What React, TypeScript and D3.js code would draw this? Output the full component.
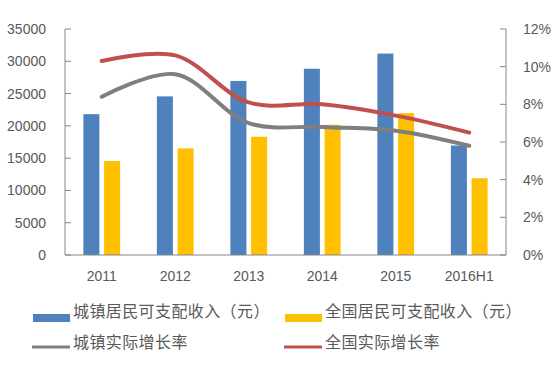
import React from "react";
import * as d3 from "d3";

const categories = ["2011", "2012", "2013", "2014", "2015", "2016H1"];
const urbanIncome = [21810, 24565, 26955, 28844, 31195, 16957];
const nationalIncome = [14551, 16510, 18311, 20167, 21966, 11886];
const urbanGrowth = [8.4, 9.6, 7.0, 6.8, 6.6, 5.8];
const nationalGrowth = [10.3, 10.6, 8.1, 8.0, 7.4, 6.5];
const leftTicks = [0, 5000, 10000, 15000, 20000, 25000, 30000, 35000];
const rightTicks = [0, 2, 4, 6, 8, 10, 12];
const legendLabels = ["城镇居民可支配收入（元）", "全国居民可支配收入（元）", "城镇实际增长率", "全国实际增长率"];

const W = 557, H = 375;
const L = 65, R = 506, T = 29, B = 255;
const BLUE = "#4F81BD", YELLOW = "#FFC000", GRAY = "#7F7F7F", RED = "#C0504D";
const AXIS = "#868686", TEXT = "#595959";
const NUM_FONT = "'Liberation Sans', Arial, sans-serif";
const CJK_FONT = "'Noto Sans CJK SC', sans-serif";

export default function App() {
  const x = d3.scaleBand<string>().domain(categories).range([L, R]).padding(0);
  const bw = x.bandwidth();
  const sub = d3.scaleBand<number>().domain([0, 1]).range([-bw * 0.25, bw * 0.25]).paddingInner(0.227).paddingOuter(0);
  const yL = d3.scaleLinear().domain([0, 35000]).range([B, T]);
  const yR = d3.scaleLinear().domain([0, 12]).range([B, T]);
  const cx = (c: string) => (x(c) as number) + bw / 2;

  const line = (vals: number[]) =>
    d3.line<number>()
      .x((_, i) => cx(categories[i]))
      .y((v) => yR(v))
      .curve(d3.curveCatmullRom.alpha(0.5))(vals) as string;

  const legendItems = [
    { label: legendLabels[0], color: BLUE, type: "bar", x: 33, y: 318, ty: 311 },
    { label: legendLabels[1], color: YELLOW, type: "bar", x: 285, y: 318, ty: 311 },
    { label: legendLabels[2], color: GRAY, type: "line", x: 32, y: 347, ty: 342 },
    { label: legendLabels[3], color: RED, type: "line", x: 284, y: 347, ty: 342 },
  ];

  return (
    <svg width={W} height={H} style={{ position: "absolute", left: 0, top: 0, background: "#fff" }}>
      {categories.map((c, i) => (
        <g key={c}>
          <rect x={cx(c) + (sub(0) as number)} y={yL(urbanIncome[i])} width={sub.bandwidth()} height={B - yL(urbanIncome[i])} fill={BLUE} />
          <rect x={cx(c) + (sub(1) as number)} y={yL(nationalIncome[i])} width={sub.bandwidth()} height={B - yL(nationalIncome[i])} fill={YELLOW} />
        </g>
      ))}
      <line x1={L} x2={L} y1={T} y2={B} stroke={AXIS} strokeWidth={1} />
      <line x1={R} x2={R} y1={T} y2={B} stroke={AXIS} strokeWidth={1} />
      <line x1={L} x2={R} y1={B} y2={B} stroke={AXIS} strokeWidth={1} />
      {leftTicks.map((t) => (
        <g key={"l" + t}>
          <line x1={L} x2={L + 6} y1={yL(t)} y2={yL(t)} stroke={AXIS} />
          <text x={46} y={yL(t)} dy="0.36em" textAnchor="end" fontSize={14} fill={TEXT} fontFamily={NUM_FONT}>{t}</text>
        </g>
      ))}
      {rightTicks.map((t) => (
        <g key={"r" + t}>
          <line x1={R - 6} x2={R} y1={yR(t)} y2={yR(t)} stroke={AXIS} />
          <text x={523} y={yR(t)} dy="0.36em" textAnchor="start" fontSize={14} fill={TEXT} fontFamily={NUM_FONT}>{t + "%"}</text>
        </g>
      ))}
      {categories.map((c) => (
        <text key={"x" + c} x={cx(c)} y={276} dy="0.36em" textAnchor="middle" fontSize={14} fill={TEXT} fontFamily={NUM_FONT}>{c}</text>
      ))}
      <path d={line(urbanGrowth)} fill="none" stroke={GRAY} strokeWidth={4} strokeLinecap="round" />
      <path d={line(nationalGrowth)} fill="none" stroke={RED} strokeWidth={4} strokeLinecap="round" />
      {legendItems.map((it) => (
        <g key={it.label}>
          {it.type === "bar" ? (
            <rect x={it.x} y={it.y - 4} width={37} height={8} fill={it.color} />
          ) : (
            <line x1={it.x} x2={it.x + 38} y1={it.y} y2={it.y} stroke={it.color} strokeWidth={3} />
          )}
          <text x={it.type === "bar" ? it.x + 40 : it.x + 41} y={it.ty} dy="0.36em" fontSize={16} letterSpacing={0.4} fill={TEXT} fontFamily={CJK_FONT}>{it.label}</text>
        </g>
      ))}
    </svg>
  );
}
